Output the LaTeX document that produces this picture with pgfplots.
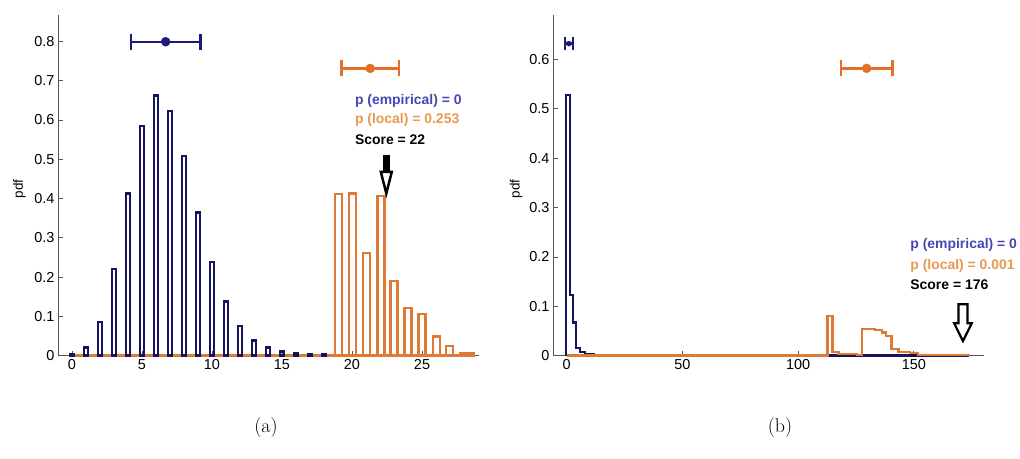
\documentclass[border=0pt]{standalone}
\usepackage{fontspec}
\usepackage{pgfplots}
\pgfplotsset{compat=1.18}
\usetikzlibrary{calc}
\newfontfamily\arial{Liberation Sans}

\definecolor{navyb}{HTML}{14145C}
\definecolor{ebnavy}{HTML}{1C1C78}
\definecolor{orng}{HTML}{DF7A35}
\definecolor{eborng}{HTML}{E2702A}
\definecolor{txtblue}{HTML}{4646B4}
\definecolor{txtorng}{HTML}{E89850}
\definecolor{axgray}{HTML}{555555}

\tikzset{note/.style={anchor=west, inner sep=0pt, font=\arial\bfseries\fontsize{14}{16}\selectfont}}
\pgfplotsset{
  pnl/.style={scale only axis, anchor=south west, clip=false,
    axis x line=bottom, axis y line=left,
    axis line style={-, draw=axgray, line width=0.8bp},
    tick style={draw=axgray, line width=0.8bp}, major tick length=5bp, tick align=inside,
    ymin=0, enlargelimits=false,
    tick label style={font=\arial\fontsize{14.5}{16}\selectfont, black},
    /pgf/number format/assume math mode=true,
    ylabel=pdf, label style={font=\arial\fontsize{13.5}{15}\selectfont}},
  hist/.style={line width=2.4bp, const plot mark left, no marks},
  bars/.style={ybar, bar shift=0pt, fill=none, line width=2.4bp},
  % interval line of a mean +- spread marker, with end caps
  span/.style={color=#1, line width=2.4bp, mark=|, mark options={solid, line width=2.4bp}},
  dot/.style={only marks, mark=*, color=#1},
}

\begin{document}
\begin{tikzpicture}
\useasboundingbox (0,0) rectangle (1020bp,459bp);

% (a)
\begin{axis}[pnl, at={(58bp,103.3bp)}, width=421.4bp, height=340.7bp,
  xmin=-1, xmax=29.1, ymax=0.867,
  xtick={0,5,10,15,20,25}, ytick={0,0.1,0.2,0.3,0.4,0.5,0.6,0.7,0.8},
  ylabel style={at={(axis description cs:-0.0914,0.49)}, anchor=center}]
\addplot[orng, line width=2.4bp, no marks] coordinates {(0,0) (28.7,0)};
\addplot[bars, draw=navyb, bar width=0.3] coordinates {
 (0,0.004) (1,0.021) (2,0.085) (3,0.220) (4,0.413) (5,0.585) (6,0.662) (7,0.623)
 (8,0.508) (9,0.364) (10,0.238) (11,0.138) (12,0.076) (13,0.039) (14,0.021)
 (15,0.011) (16,0.006) (17,0.004) (18,0.003) (19,0.002) (20,0.002) (21,0.002)
 (22,0.001) (23,0.001) (24,0.001) (25,0.001) (26,0.001) (27,0.001) (28,0.001)};
\addplot[bars, draw=orng, bar width=0.5] coordinates {
 (19.05,0.412) (20.05,0.413) (21.05,0.261) (22.07,0.406) (23.0,0.190)
 (24.0,0.122) (25.0,0.106) (26.05,0.049) (26.95,0.024)};
\addplot[bars, draw=orng, bar width=1.0] coordinates {(28.2,0.007)};
\addplot[span=ebnavy, mark size=8bp] coordinates {(4.21,0.799) (9.17,0.799)};
\addplot[dot=ebnavy, mark size=4.5bp] coordinates {(6.69,0.799)};
\addplot[span=eborng, mark size=8bp] coordinates {(19.25,0.731) (23.35,0.731)};
\addplot[dot=eborng, mark size=4.5bp] coordinates {(21.3,0.731)};
\node[note, text=txtblue] at (axis cs:20.2,0.649) {p (empirical) = 0};
\node[note, text=txtorng] at (axis cs:20.2,0.600) {p (local) = 0.253};
\node[note, text=black] at (axis cs:20.2,0.549) {Score = 22};
\coordinate (ta) at (axis cs:22.45,0.413);
\fill[black] ($(ta)+(-3.3bp,20bp)$) rectangle ($(ta)+(3.3bp,38.3bp)$);
\draw[black, line width=2.5bp, fill=white, line join=miter]
  (ta) -- ($(ta)+(-5.5bp,21.6bp)$) -- ($(ta)+(5.5bp,21.6bp)$) -- cycle;
\end{axis}

% (b)
\begin{axis}[pnl, at={(553bp,103.3bp)}, width=431bp, height=340.7bp,
  xmin=-5.92, xmax=180.3, ymax=0.69,
  xtick={0,50,100,150}, ytick={0,0.1,0.2,0.3,0.4,0.5,0.6},
  ylabel style={at={(axis description cs:-0.0858,0.49)}, anchor=center}]
\addplot[hist, navyb] coordinates {
 (-0.4,0) (-0.4,0.528) (1.4,0.123) (2.6,0.067) (3.9,0.015) (5.8,0.008)
 (7.9,0.004) (11.5,0.002) (23.8,0) (27.8,0.002) (28.7,0) (173.6,0)};
\addplot[hist, orng] coordinates {
 (0,0) (112.6,0.081) (114.9,0.008) (117.4,0.004) (125.3,0.002) (127.5,0.054)
 (133.2,0.052) (136.1,0.047) (138,0.040) (140.4,0.013) (143.3,0.008)
 (148.4,0.005) (151.9,0.002) (173.6,0) (173.6,0)};
\addplot[span=ebnavy, mark size=6.5bp] coordinates {(-0.7,0.632) (2.6,0.632)};
\addplot[dot=ebnavy, mark size=2.5bp] coordinates {(0.95,0.632)};
\addplot[span=eborng, mark size=8bp] coordinates {(118.4,0.582) (140.8,0.582)};
\addplot[dot=eborng, mark size=4.5bp] coordinates {(129.6,0.582)};
\node[note, text=txtblue] at (axis cs:148.4,0.2235) {p (empirical) = 0};
\node[note, text=txtorng] at (axis cs:148.4,0.182) {p (local) = 0.001};
\node[note, text=black] at (axis cs:148.4,0.143) {Score = 176};
\coordinate (tb) at (axis cs:171.2,0.0298);
\draw[black, line width=2.2bp, fill=white, line join=miter]
  (tb) -- ($(tb)+(-8.8bp,17.7bp)$) -- ($(tb)+(-4.5bp,17.7bp)$) -- ($(tb)+(-4.5bp,36.7bp)$)
  -- ($(tb)+(4.5bp,36.7bp)$) -- ($(tb)+(4.5bp,17.7bp)$) -- ($(tb)+(8.8bp,17.7bp)$) -- cycle;
\end{axis}

\node[font=\fontsize{20}{24}\selectfont] at (266bp,31bp) {(a)};
\node[font=\fontsize{20}{24}\selectfont] at (780bp,31bp) {(b)};
\end{tikzpicture}
\end{document}
